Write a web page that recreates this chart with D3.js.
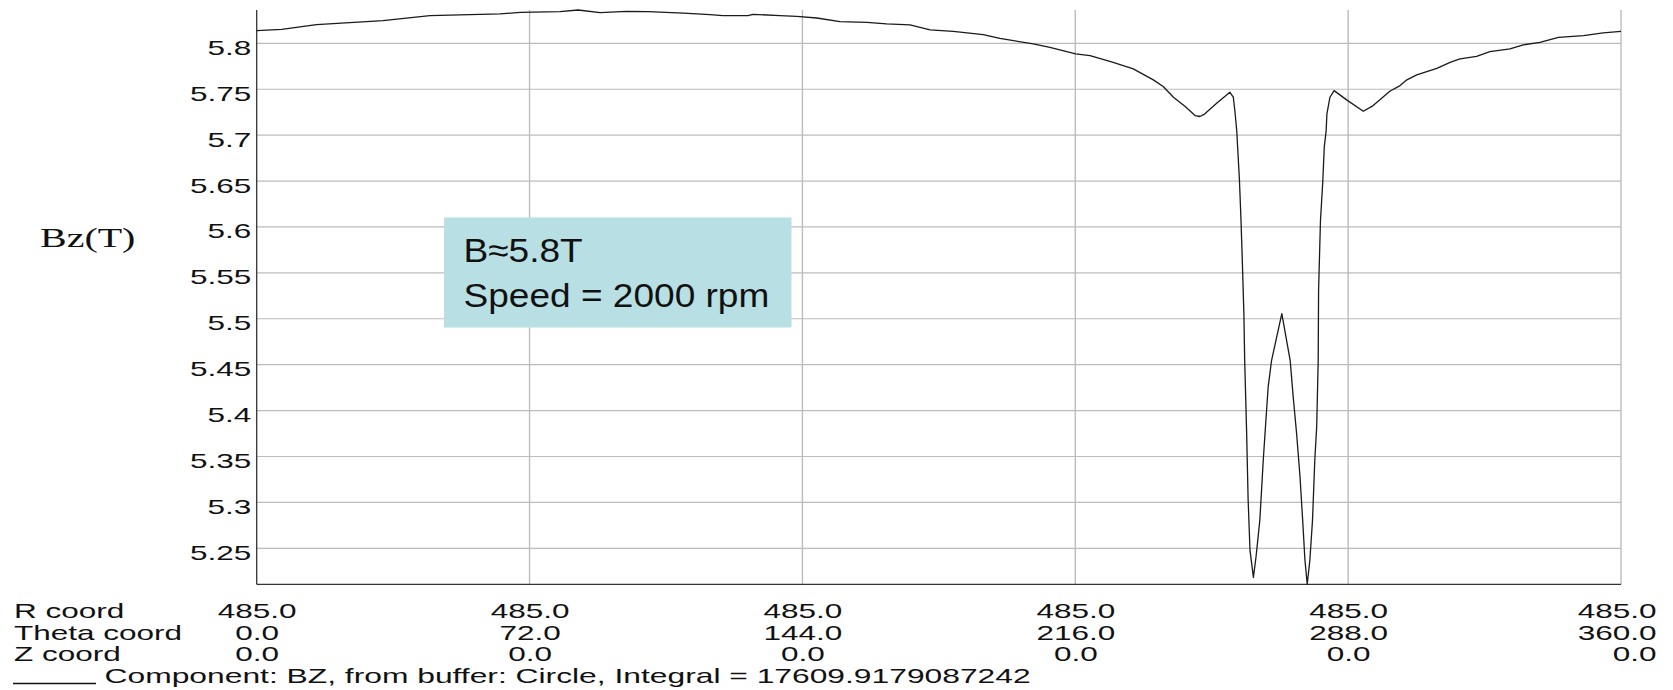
<!DOCTYPE html>
<html>
<head>
<meta charset="utf-8">
<script src="https://cdn.jsdelivr.net/npm/d3@7"></script>
<style>
  html, body { margin: 0; padding: 0; background: #ffffff; }
  svg { display: block; }
</style>
</head>
<body>
<svg id="chart" width="1673" height="690"></svg>
<script>
// Bz (T) sampled along the r = 485 circle, against theta (degrees)
const theta = [
  0, 6.6, 15.8, 33.3, 45.7, 64.2, 69.5, 80.0, 84.8, 90.6,
  97.6, 103.3, 112.6, 119.6, 123.0, 129.6, 131.0, 138.1, 142.5, 147.8,
  153.9, 161.0, 166.2, 172.4, 177.7, 183.8, 191.7, 196.1, 204.9, 209.3,
  216.1, 219.9, 226.0, 231.3, 236.6, 239.2, 241.9, 245.0, 247.6, 248.9,
  250.2, 253.3, 256.8, 257.7, 258.1, 258.6, 259.3, 259.7, 260.1, 260.5,
  260.7, 261.2, 261.6, 262.1, 263.0, 263.7, 264.7, 265.6, 266.3, 266.9,
  267.8, 270.5, 272.7, 273.5, 274.4, 275.3, 276.0, 276.6, 277.2, 277.9,
  278.6, 279.2, 279.7, 280.1, 280.2, 280.7, 281.3, 281.7, 282.2, 282.4,
  283.2, 284.3, 287.6, 292.0, 294.6, 299.0, 301.7, 303.5, 306.1, 311.4,
  314.9, 317.5, 321.9, 325.4, 330.7, 334.2, 338.6, 343.5, 350.1, 355.3,
  360
];
const bz = [
  5.8138, 5.8152, 5.8203, 5.8247, 5.8301, 5.8320, 5.8337, 5.8345, 5.8363, 5.8334,
  5.8348, 5.8345, 5.8330, 5.8312, 5.8301, 5.8301, 5.8316, 5.8301, 5.8294, 5.8276,
  5.8236, 5.8228, 5.8211, 5.8200, 5.8146, 5.8131, 5.8095, 5.8054, 5.7993, 5.7956,
  5.7885, 5.7866, 5.7793, 5.7721, 5.7602, 5.7529, 5.7413, 5.7311, 5.7213, 5.7203,
  5.7232, 5.7347, 5.7467, 5.7413, 5.7268, 5.7050, 5.6525, 5.6107, 5.5600, 5.5038,
  5.4548, 5.3787, 5.3043, 5.2481, 5.2184, 5.2408, 5.2807, 5.3460, 5.3895, 5.4258,
  5.4548, 5.5056, 5.4548, 5.4149, 5.3750, 5.3279, 5.2807, 5.2372, 5.2108, 5.2372,
  5.2807, 5.3460, 5.3823, 5.4548, 5.5309, 5.6071, 5.6488, 5.6869, 5.7050, 5.7232,
  5.7413, 5.7485, 5.7384, 5.7260, 5.7322, 5.7478, 5.7540, 5.7602, 5.7656, 5.7728,
  5.7793, 5.7830, 5.7859, 5.7910, 5.7939, 5.7983, 5.8011, 5.8065, 5.8084, 5.8113,
  5.8131
];

// Axis ticks and the coordinate rows printed under the plot
const thetaTicks = [0, 72, 144, 216, 288, 360];
const rCoordLabels = ["485.0", "485.0", "485.0", "485.0", "485.0", "485.0"];
const thetaCoordLabels = ["0.0", "72.0", "144.0", "216.0", "288.0", "360.0"];
const zCoordLabels = ["0.0", "0.0", "0.0", "0.0", "0.0", "0.0"];
const rowNames = ["R coord", "Theta coord", "Z coord"];
const bzTicks = [5.25, 5.3, 5.35, 5.4, 5.45, 5.5, 5.55, 5.6, 5.65, 5.7, 5.75, 5.8];
const yTitle = "Bz(T)";
const noteLines = ["B\u22485.8T", "Speed = 2000 rpm"];
const legendText = "Component: BZ, from buffer: Circle, Integral = 17609.9179087242";

const svg = d3.select("#chart");
const SANS = "'Liberation Sans', Arial, Helvetica, sans-serif";
const SERIF = "'Liberation Serif', 'Times New Roman', Times, serif";
const SX = 1.575;         // horizontal stretch of the plot's lettering
const FS = 20;

const plotLeft = 256.7, plotRight = 1621, plotTop = 10, plotBottom = 584.3;

const x = d3.scaleLinear().domain([0, 360]).range([plotLeft, plotRight]);
const y = d3.scaleLinear().domain(d3.extent(bz)).range([plotBottom, plotTop]);

// helper: text stretched horizontally around its anchor point
function wideText(parent, px, py, str, opts) {
  const o = Object.assign({ sx: SX, size: FS, anchor: "start", family: SANS, fill: "#111" }, opts || {});
  return parent.append("text")
    .attr("transform", `translate(${px},${py}) scale(${o.sx},1)`)
    .attr("text-anchor", o.anchor)
    .attr("font-family", o.family)
    .attr("font-size", o.size)
    .attr("fill", o.fill)
    .text(str);
}

// grid
const grid = svg.append("g");
grid.selectAll("line.h").data(bzTicks).join("line")
  .attr("x1", plotLeft).attr("x2", plotRight)
  .attr("y1", d => y(d)).attr("y2", d => y(d))
  .attr("stroke", "#bcbcbc").attr("stroke-width", 1.2);
grid.selectAll("line.v").data(thetaTicks.slice(1)).join("line")
  .attr("x1", d => x(d)).attr("x2", d => x(d))
  .attr("y1", plotTop).attr("y2", plotBottom)
  .attr("stroke", "#bcbcbc").attr("stroke-width", 1.4);

// y axis: labels only, no tick marks
const yAxis = svg.append("g")
  .attr("transform", `translate(${plotLeft},0)`)
  .call(d3.axisLeft(y).tickValues(bzTicks).tickSize(0)
    .tickFormat(d => String(+d.toFixed(2))));
yAxis.select(".domain").remove();
yAxis.selectAll("text")
  .attr("font-family", SANS).attr("font-size", FS).attr("fill", "#111")
  .attr("dy", null).attr("y", 11)
  .attr("x", -5.5 / SX)
  .attr("transform", `scale(${SX},1)`);

// frame lines: left and bottom
svg.append("line").attr("x1", plotLeft).attr("x2", plotLeft).attr("y1", plotTop).attr("y2", plotBottom)
  .attr("stroke", "#333").attr("stroke-width", 1.3);
svg.append("line").attr("x1", plotLeft).attr("x2", plotRight).attr("y1", plotBottom).attr("y2", plotBottom)
  .attr("stroke", "#333").attr("stroke-width", 1.3);

// the field curve
const line = d3.line().x((d, i) => x(theta[i])).y(d => y(d));
svg.append("path").datum(bz)
  .attr("d", line)
  .attr("fill", "none")
  .attr("stroke", "#1a1a1a")
  .attr("stroke-width", 1.3)
  .attr("stroke-linejoin", "round");

// coordinate rows under the plot, one x axis per row
const rows = [rCoordLabels, thetaCoordLabels, zCoordLabels];
const rowBase = [617.8, 639.5, 661];
rows.forEach((labels, r) => {
  const g = svg.append("g").attr("transform", `translate(0,${rowBase[r]})`)
    .call(d3.axisBottom(x).tickValues(thetaTicks).tickSize(0)
      .tickFormat((d, i) => labels[i]));
  g.select(".domain").remove();
  g.selectAll("text")
    .attr("font-family", SANS).attr("font-size", FS).attr("fill", "#111")
    .attr("dy", null).attr("y", 0).attr("x", 0)
    .attr("transform", `scale(${SX},1)`);
  // last column is pulled in to stay on the page
  g.selectAll(".tick").filter(d => d === 360)
    .select("text").attr("text-anchor", "end").attr("x", (1656 - x(360)) / SX);
  wideText(svg, 14, rowBase[r], rowNames[r]);
});

// legend: line sample followed by the series description
svg.append("line").attr("x1", 13).attr("x2", 96).attr("y1", 683.5).attr("y2", 683.5)
  .attr("stroke", "#111").attr("stroke-width", 1.3);
wideText(svg, 104.6, 682.5, legendText, { sx: 1.59 });

// y title
wideText(svg, 40, 246.5, yTitle, { family: SERIF, size: 27, sx: 1.48 });

// annotation box
const note = svg.append("g");
note.append("rect")
  .attr("x", 444).attr("y", 217.5).attr("width", 347.5).attr("height", 110)
  .attr("fill", "#b8dfe3");
noteLines.forEach((t, i) => {
  wideText(note, 463.5, 261.5 + i * 45, t, { size: 34, sx: 1.09, fill: "#111" });
});
</script>
</body>
</html>
